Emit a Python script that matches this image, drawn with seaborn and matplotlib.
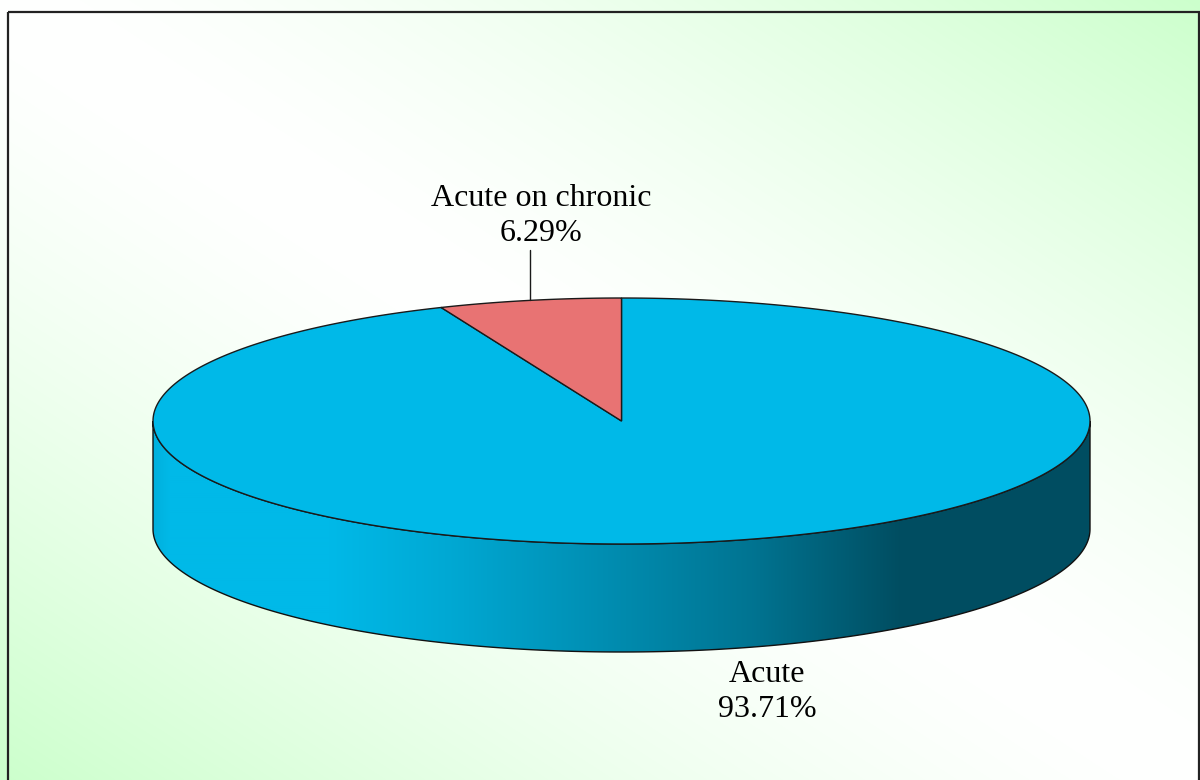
import numpy as np
import matplotlib
matplotlib.use("Agg")
import matplotlib.pyplot as plt
import seaborn as sns
from matplotlib.patches import Polygon, Rectangle
from matplotlib.colors import to_rgb

# ---- data -------------------------------------------------------------
categories = ["Acute", "Acute on chronic"]
shares = [93.71, 6.29]          # percent
slice_colors = ["#00b9e8", "#e87373"]

# ---- style ------------------------------------------------------------
sns.set_theme(style="white")
plt.rcParams["font.family"] = ["Liberation Serif", "DejaVu Serif"]

W, H = 1200, 780
fig = plt.figure(figsize=(12, 7.8), dpi=100)
ax = fig.add_axes([0, 0, 1, 1])
ax.set_xlim(0, W)
ax.set_ylim(H, 0)
ax.axis("off")

# ---- background: white along the main diagonal, pale green at the corners
yy, xx = np.mgrid[0:H, 0:W] + 0.5
t = np.abs(xx * H - yy * W) / (W * H)
t = t ** 1.45
green = np.array(to_rgb("#ccffcc"))
bg = (1 - t)[..., None] * np.ones(3) + t[..., None] * green
ax.imshow(bg, extent=(0, W, H, 0), zorder=0, aspect="auto", interpolation="bilinear")

# frame
ax.add_patch(Rectangle((8, 12), 1190.5, 800, fill=False, lw=1.6,
                       edgecolor="#222222", zorder=1))

# ---- 3-D pie geometry -------------------------------------------------
cx, cy = 621.5, 421.0
rx, ry = 468.5, 123.0
depth = 108.0


def ell(theta_deg, dy=0.0):
    th = np.radians(theta_deg)
    return cx + rx * np.cos(th), cy - ry * np.sin(th) + dy


# side shading (brightness across the wall, left -> right)
shade_x = [153, 170, 330, 450, 600, 750, 900, 1090]
shade_f = [0.95, 1.0, 1.0, 0.91, 0.77, 0.63, 0.42, 0.42]

# slices run clockwise from 12 o'clock
angles = []
start = 90.0
for s in shares:
    sweep = 360.0 * s / sum(shares)
    angles.append((start - sweep, start))
    start -= sweep

# side walls: only the front half (180..360 deg) is visible
for (a0, a1), col in zip(angles, slice_colors):
    for k in (-1, 0):
        lo = max(a0, 180 + 360 * k)
        hi = min(a1, 360 + 360 * k)
        if hi <= lo:
            continue
        th = np.linspace(lo, hi, 300)
        xt, yt = ell(th)
        xb, yb = ell(th[::-1], depth)
        verts = np.column_stack([np.r_[xt, xb], np.r_[yt, yb]])
        poly = Polygon(verts, closed=True, facecolor="none",
                       edgecolor="#111111", lw=1.0, zorder=3)
        ax.add_patch(poly)
        base = np.array(to_rgb(col))
        xs = np.arange(W) + 0.5
        f = np.interp(xs, shade_x, shade_f)
        strip = np.clip(f[:, None] * base[None, :], 0, 1)
        img = np.repeat(strip[None, :, :], 2, axis=0)
        im = ax.imshow(img, extent=(0, W, cy + ry + depth + 5, cy - 5),
                       aspect="auto", zorder=2, interpolation="bilinear")
        im.set_clip_path(poly)

# top faces
for (a0, a1), col in zip(angles, slice_colors):
    th = np.linspace(a0, a1, 400)
    x, y = ell(th)
    verts = np.column_stack([np.r_[cx, x], np.r_[cy, y]])
    ax.add_patch(Polygon(verts, closed=True, facecolor=col,
                         edgecolor="#1a1a1a", lw=1.0, zorder=4))

# ---- labels -----------------------------------------------------------
# small slice: label above with a leader line
mid_small = np.mean(angles[1])
lx, ly = ell(mid_small)
ax.plot([lx, lx], [ly, 250], color="#1a1a1a", lw=1.0, zorder=5)
ax.text(541, 216, f"{categories[1]}\n{shares[1]:.2f}%", ha="center", va="center",
        fontsize=23, linespacing=1.3, color="black", zorder=6)

# large slice: label below the pie
ax.text(767, 692, f"{categories[0]}\n{shares[0]:.2f}%", ha="center", va="center",
        fontsize=23, linespacing=1.3, color="black", zorder=6)

fig.savefig("out.png", dpi=100)
